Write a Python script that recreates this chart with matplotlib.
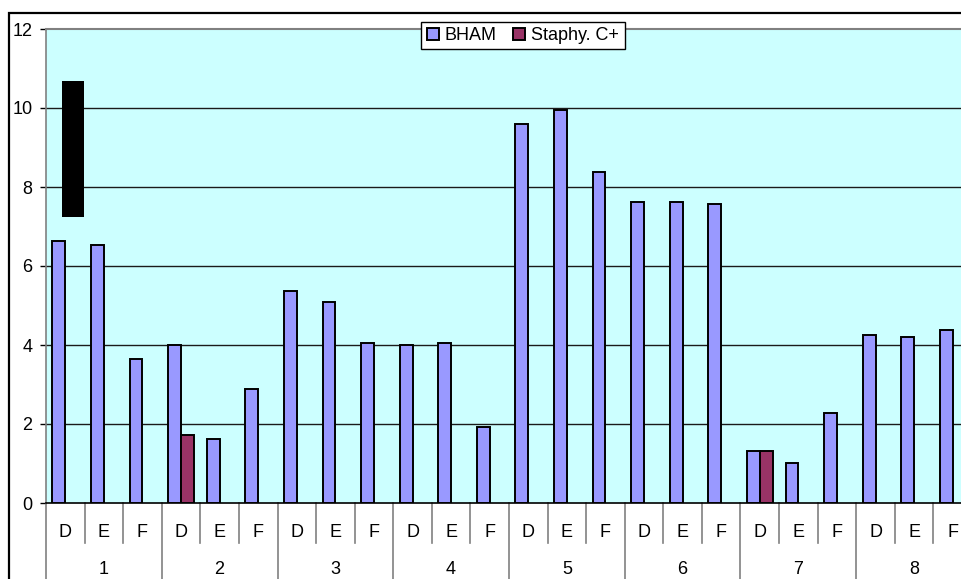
import matplotlib
matplotlib.use("Agg")
import matplotlib.pyplot as plt
from matplotlib.patches import Rectangle
from matplotlib.lines import Line2D
import numpy as np

plt.rcParams['font.family'] = ['Liberation Sans', 'DejaVu Sans']

groups = ['1', '2', '3', '4', '5', '6', '7', '8']
subcats = ['D', 'E', 'F']
bham = [6.63, 6.52, 3.65,
        4.01, 1.62, 2.89,
        5.37, 5.08, 4.06,
        4.01, 4.06, 1.92,
        9.60, 9.95, 8.37,
        7.61, 7.61, 7.56,
        1.32, 1.02, 2.29,
        4.26, 4.21, 4.37]
staphy = [None, None, None,
          1.73, None, None,
          None, None, None,
          None, None, None,
          None, None, None,
          None, None, None,
          1.32, None, None,
          None, None, None]
# redaction box (data coords): x0, x1, y0, y1
redact_box = (-0.085, 0.484, 7.25, 10.68)
yticks = [0, 2, 4, 6, 8, 10, 12]

W, H = 962, 579
fig = plt.figure(figsize=(W / 100, H / 100), dpi=100)
left_px, right_px, top_px, bot_px = 46, 972, 29, 503
ax = fig.add_axes([left_px / W, 1 - bot_px / H, (right_px - left_px) / W, (bot_px - top_px) / H])
ax.set_facecolor('#CCFFFF')

n = len(bham)
x = np.arange(n)
bw = 1 / 3
ax.bar(x - bw / 2, bham, width=bw, color='#9999FF', edgecolor='black', linewidth=1.4, zorder=3, label='BHAM')
sx = [i for i, v in enumerate(staphy) if v is not None]
sv = [staphy[i] for i in sx]
ax.bar(np.array(sx) + bw / 2, sv, width=bw, color='#993366', edgecolor='black', linewidth=1.4, zorder=3, label='Staphy. C+')

x0, x1, y0, y1 = redact_box
ax.add_patch(Rectangle((x0, y0), x1 - x0, y1 - y0, facecolor='black', edgecolor='none', zorder=4))

ax.set_xlim(-0.5, n - 0.5)
ax.set_ylim(0, 12)
ax.set_yticks(yticks)
ax.set_yticklabels([str(t) for t in yticks], fontsize=13)
ax.tick_params(axis='y', length=4.3, width=1, pad=5.5, color='black')
for t in yticks[1:-1]:
    ax.axhline(t, color='#1a1a1a', linewidth=1.0, zorder=1)

ax.spines['top'].set_color('#808080')
ax.spines['top'].set_linewidth(1.5)
ax.spines['left'].set_color('#808080')
ax.spines['left'].set_linewidth(1.2)
ax.spines['right'].set_visible(False)
ax.spines['bottom'].set_color('black')
ax.spines['bottom'].set_linewidth(1.2)

# x-axis: subcategory labels
ax.set_xticks(x)
ax.set_xticklabels([subcats[i % 3] for i in range(n)], fontsize=13)
ax.tick_params(axis='x', length=0, pad=15)

ah = bot_px - top_px
trans = ax.get_xaxis_transform()
sub_depth = -40 / ah
for b in range(n + 1):
    xb = b - 0.5
    if b % 3 == 0:
        ax.add_line(Line2D([xb, xb], [0, -0.3], transform=trans, color='#808080', linewidth=1.2, clip_on=False))
    else:
        ax.add_line(Line2D([xb, xb], [0, sub_depth], transform=trans, color='#808080', linewidth=1.2, clip_on=False))
for g, name in enumerate(groups):
    ax.text(3 * g + 1, -67 / ah, name, transform=trans, ha='center', va='center', fontsize=13)

# legend
leg = fig.legend(loc='center', bbox_to_anchor=(523 / W, 1 - 35.5 / H), ncol=2, fontsize=13,
                 frameon=True, fancybox=False, edgecolor='black', framealpha=1,
                 handlelength=0.65, handleheight=0.65, handletextpad=0.35, columnspacing=0.9,
                 borderpad=0.3, borderaxespad=0)
leg.get_frame().set_linewidth(1.0)
leg.set_zorder(10)

# outer chart border
fig.add_artist(Rectangle((9 / W, -0.2), 1.2, 1.2 - 13 / H, transform=fig.transFigure,
                         facecolor='none', edgecolor='black', linewidth=1.6, zorder=0))

fig.savefig('out.png', dpi=100)
